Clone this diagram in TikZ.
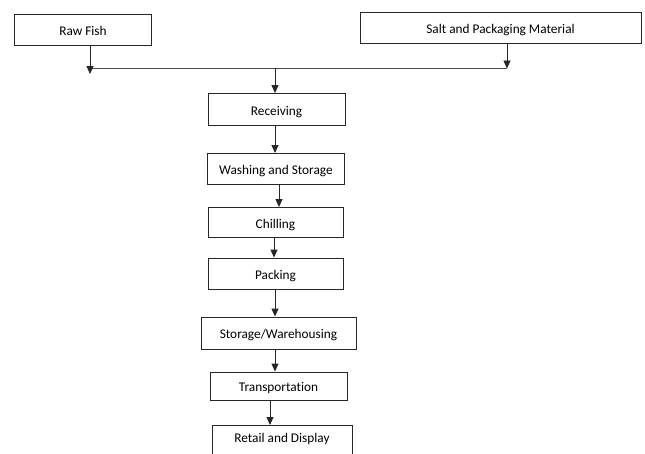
\documentclass[tikz,border=0pt]{standalone}
\usepackage{fontspec}
\setmainfont{Carlito}[Ligatures={NoCommon}]
\usetikzlibrary{arrows.meta}
\begin{document}
\begin{tikzpicture}[x=1pt,y=-1pt,
  lbl/.style={font=\fontsize{13.3}{15}\selectfont,text height=12pt,text depth=1pt},
  box/.style={lbl,draw=black!85,line width=0.9pt,inner sep=0pt},
  arr/.style={draw=black!85,line width=0.9pt,-{Triangle[length=8pt,width=7pt]}},
  ln/.style={draw=black!70,line width=0.9pt}]
\useasboundingbox (0,0) rectangle (645,453);
\clip (0,0) rectangle (645,453);
\node[box,minimum width=137,minimum height=31] (raw) at (83,29.5) {Raw Fish};
\node[box,minimum width=281,minimum height=31] (salt) at (500.5,27.5) {Salt and Packaging Material};
\coordinate (hl) at (90,68);
\coordinate (hr) at (507,68);
\coordinate (hm) at (275,68);
\coordinate (rawend) at (90,74);
\coordinate (saltend) at (507,68.5);
\draw[ln] (hl) -- (hr);
\draw[arr] (raw.south -| hl) -- (rawend);
\draw[arr] (salt.south -| hr) -- (saltend);
\node[box,minimum width=137,minimum height=32] (rec) at (276.5,109.5) {Receiving};
\node[box,minimum width=137,minimum height=31] (wash) at (276,169) {Washing and Storage};
\node[box,minimum width=135,minimum height=30] (chill) at (275.5,222.5) {Chilling};
\node[box,minimum width=135,minimum height=31] (pack) at (275.5,273.5) {Packing};
\node[box,minimum width=155,minimum height=32] (stor) at (278.5,333) {Storage/Warehousing};
\node[box,minimum width=137,minimum height=28] (trans) at (278.5,386) {Transportation};
\node[box,minimum width=140,minimum height=40,anchor=north] (ret) at (282,425) {};
\node[lbl] (rettxt) at (282,436.5) {Retail and Display};
\draw[arr] (hm) -- (rec.north -| hm);
\draw[arr] ([xshift=-1.5]rec.south) -- ([xshift=-1.5]rec.south |- wash.north);
\draw[arr] ([xshift=3]wash.south) -- ([xshift=3]wash.south |- chill.north);
\draw[arr] ([xshift=-1.5]chill.south) -- ([xshift=-1.5]chill.south |- pack.north);
\draw[arr] ([xshift=-0.5]pack.south) -- ([xshift=-0.5]pack.south |- stor.north);
\draw[arr] ([xshift=-3.5]stor.south) -- ([xshift=-3.5]stor.south |- trans.north);
\draw[arr] ([xshift=-8.5]trans.south) -- ([xshift=-8.5]trans.south |- ret.north);
\end{tikzpicture}
\end{document}
